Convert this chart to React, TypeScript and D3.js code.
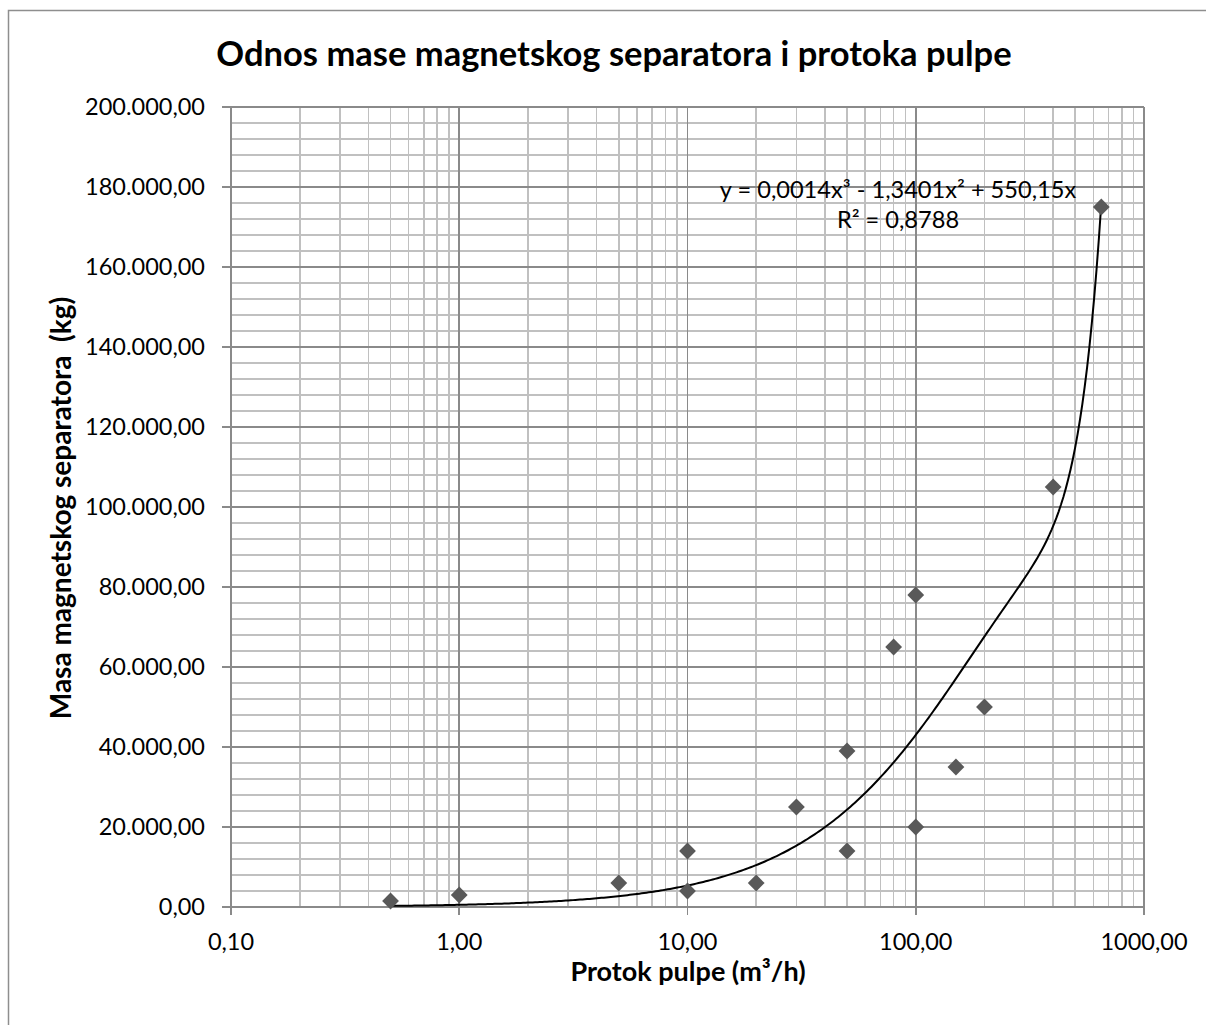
import React from "react"
import * as d3 from "d3"

// flow rate (m3/h) and separator mass (kg)
const flowRates = [0.5, 1, 5, 10, 10, 20, 30, 50, 50, 80, 100, 100, 150, 200, 400, 650]
const masses = [1500, 3000, 6000, 14000, 4000, 6000, 25000, 39000, 14000, 65000, 78000, 20000, 35000, 50000, 105000, 175000]

// polynomial trendline shown on the chart: c1*x + c2*x^2 + c3*x^3
const trendCoef = [550.15, -1.3401, 0.0014]
const trendLabel = ["y = 0,0014x³ - 1,3401x² + 550,15x", "R² = 0,8788"]

const xTicks = [0.1, 1, 10, 100, 1000]
const yTicks = [0, 20000, 40000, 60000, 80000, 100000, 120000, 140000, 160000, 180000, 200000]

const title = "Odnos mase magnetskog separatora i protoka pulpe"
const xTitle = "Protok pulpe (m³/h)"
const yTitle = "Masa magnetskog separatora  (kg)"

const W = 1206
const H = 1025
const FONT = "Lato, 'Open Sans', sans-serif"

const locale = d3.formatLocale({ decimal: ",", thousands: ".", grouping: [3], currency: ["", ""] })
const fmtY = locale.format(",.2f")
const fmtX = locale.format(".2f")

const App: React.FC = () => {
  const plot = { left: 231, right: 1144, top: 107, bottom: 907 }

  const x = d3.scaleLog().domain([0.1, 1000]).range([plot.left, plot.right])
  const y = d3.scaleLinear().domain([0, 200000]).range([plot.bottom, plot.top])

  // minor grid: 2..9 within every decade, and every 4000 kg
  const xMinor: number[] = []
  for (let i = 0; i < xTicks.length - 1; i++) {
    for (let k = 2; k <= 9; k++) xMinor.push(xTicks[i] * k)
  }
  const yMinor = d3.range(0, 200001, 4000).filter((v) => v % 20000 !== 0)

  const trend = (v: number) => trendCoef[0] * v + trendCoef[1] * v * v + trendCoef[2] * v * v * v
  const [xMin, xMax] = d3.extent(flowRates) as [number, number]
  const trendX = d3.range(0, 301).map((i) => xMin * Math.pow(xMax / xMin, i / 300))
  const line = d3
    .line<number>()
    .x((d) => x(d))
    .y((d) => y(trend(d)))

  const diamond = d3.symbol().type(d3.symbolDiamond2).size(180)

  const minorColor = "#c0c0c0"
  const majorColor = "#8a8a8a"

  return (
    <svg width={W} height={H} style={{ position: "absolute", left: 0, top: 0, background: "#fff" }} fontFamily={FONT}>
      <rect x={8.5} y={10.5} width={1240} height={1040} fill="#fff" stroke="#8e8e8e" strokeWidth={1.5} />

      <text x={614} y={66} textAnchor="middle" fontSize={34.5} fontWeight="bold">
        {title}
      </text>

      {/* grid */}
      <g strokeWidth={1.6} shapeRendering="crispEdges">
        {yMinor.map((v) => (
          <line key={"ym" + v} x1={plot.left} x2={plot.right} y1={y(v)} y2={y(v)} stroke={minorColor} />
        ))}
        {xMinor.map((v) => (
          <line key={"xm" + v} x1={x(v)} x2={x(v)} y1={plot.top} y2={plot.bottom} stroke={minorColor} />
        ))}
        {yTicks.map((v) => (
          <line key={"yM" + v} x1={plot.left - 9} x2={plot.right} y1={y(v)} y2={y(v)} stroke={majorColor} />
        ))}
        {xTicks.map((v) => (
          <line key={"xM" + v} x1={x(v)} x2={x(v)} y1={plot.top} y2={plot.bottom + 8} stroke={majorColor} />
        ))}
      </g>

      {/* tick labels */}
      <g fontSize={23.5} fill="#000">
        {yTicks.map((v) => (
          <text key={"yl" + v} x={205} y={y(v) + 8} textAnchor="end">
            {fmtY(v)}
          </text>
        ))}
        {xTicks.map((v) => (
          <text key={"xl" + v} x={x(v)} y={950} textAnchor="middle">
            {fmtX(v)}
          </text>
        ))}
      </g>

      {/* trendline */}
      <path d={line(trendX) || ""} fill="none" stroke="#000" strokeWidth={2} />

      {/* points */}
      <g fill="#595959">
        {flowRates.map((f, i) => (
          <path key={"p" + i} d={diamond() || ""} transform={`translate(${x(f)},${y(masses[i])})`} />
        ))}
      </g>

      {/* trendline label */}
      <g fontSize={23.6} textAnchor="middle">
        <text x={898} y={198}>{trendLabel[0]}</text>
        <text x={898} y={228}>{trendLabel[1]}</text>
      </g>

      <text x={688} y={981} textAnchor="middle" fontSize={27} fontWeight="bold">
        {xTitle}
      </text>
      <text
        transform={`translate(71,508) rotate(-90)`}
        textAnchor="middle"
        fontSize={28}
        fontWeight="bold"
        xmlSpace="preserve"
        style={{ whiteSpace: "pre" }}
      >
        {yTitle}
      </text>
    </svg>
  )
}

export default App
